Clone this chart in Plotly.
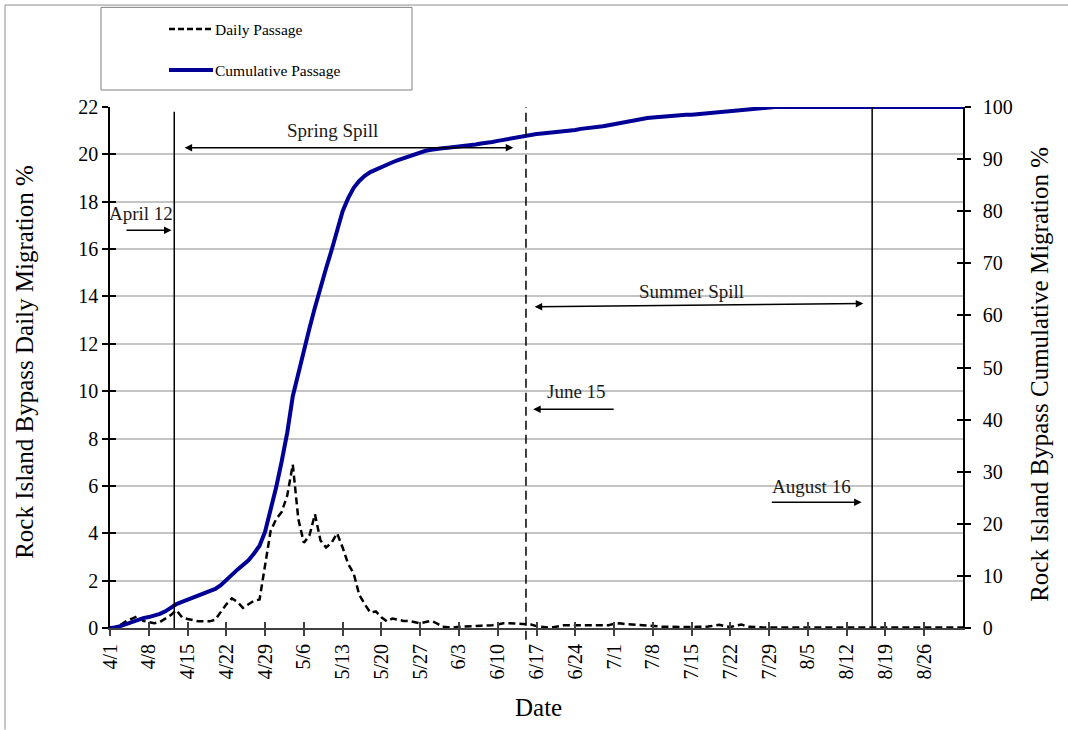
import plotly.graph_objects as go

# ---- data -------------------------------------------------------------
# x positions are days since April 1 (0 = 4/1)
tick_days = [0, 7, 14, 21, 28, 35, 42, 49, 56, 63, 70, 77,
             84, 91, 98, 105, 112, 119, 126, 133, 140, 147]
tick_labels = ["4/1", "4/8", "4/15", "4/22", "4/29", "5/6", "5/13", "5/20",
               "5/27", "6/3", "6/10", "6/17", "6/24", "7/1", "7/8", "7/15",
               "7/22", "7/29", "8/5", "8/12", "8/19", "8/26"]

days = list(range(155))

daily_pct = [
    0, 0.05, 0.15, 0.3, 0.4, 0.5, 0.3, 0.25, 0.2, 0.25,
    0.4, 0.55, 0.75, 0.45, 0.38, 0.32, 0.28, 0.28, 0.28, 0.35,
    0.7, 1.0, 1.25, 1.1, 0.85, 1.0, 1.15, 1.2, 2.7, 4.1,
    4.6, 4.9, 5.6, 6.9, 4.6, 3.6, 3.9, 4.8, 3.7, 3.4,
    3.6, 4.0, 3.4, 2.7, 2.3, 1.4, 1.0, 0.65, 0.7, 0.45,
    0.28, 0.4, 0.35, 0.3, 0.3, 0.25, 0.2, 0.25, 0.3, 0.2,
    0.05, 0.03, 0.02, 0.05, 0.05, 0.06, 0.08, 0.1, 0.1, 0.12,
    0.15, 0.2, 0.2, 0.18, 0.18, 0.17, 0.15, 0.08, 0.04, 0.02,
    0.03, 0.08, 0.12, 0.12, 0.12, 0.12, 0.1, 0.1, 0.1, 0.1,
    0.12, 0.18, 0.2, 0.17, 0.15, 0.12, 0.1, 0.08, 0.06, 0.05,
    0.05, 0.05, 0.04, 0.03, 0.02, 0.04, 0.05, 0.05, 0.06, 0.1,
    0.14, 0.08, 0.04, 0.1, 0.15, 0.06, 0.04, 0.03, 0.02, 0.02,
    0.02, 0.02, 0.02, 0.02, 0.02, 0.02, 0.02, 0.02, 0.02, 0.02,
    0.02, 0.02, 0.02, 0.02, 0.02, 0.02, 0.02, 0.02, 0.02, 0.02,
    0.02, 0.02, 0.02, 0.02, 0.02, 0.02, 0.02, 0.02, 0.02, 0.02,
    0.02, 0.02, 0.02, 0.02, 0.02,
]

cumulative_pct = [
    0, 0.1, 0.4, 0.8, 1.2, 1.6, 1.9, 2.1, 2.4, 2.7,
    3.2, 3.9, 4.6, 5.0, 5.4, 5.8, 6.2, 6.6, 7.0, 7.5,
    8.2, 9.1, 10.2, 11.2, 12.0, 13.0, 14.3, 15.8, 18.5, 22.5,
    27.0, 32.0, 37.5, 44.5, 49.0, 53.0, 57.5, 61.5, 65.5, 69.0,
    72.5, 76.5, 80.0, 82.5, 84.5, 85.8, 86.8, 87.5, 88.0, 88.6,
    89.0, 89.4, 89.8, 90.2, 90.6, 91.0, 91.3, 91.6, 91.8, 92.0,
    92.1, 92.2, 92.3, 92.4, 92.5, 92.6, 92.8, 93.0, 93.1, 93.3,
    93.5, 93.7, 93.9, 94.1, 94.3, 94.5, 94.7, 94.8, 94.9, 95.0,
    95.1, 95.2, 95.4, 95.5, 95.6, 95.8, 95.9, 96.0, 96.2, 96.3,
    96.5, 96.7, 97.0, 97.2, 97.4, 97.6, 97.7, 97.9, 98.0, 98.1,
    98.2, 98.3, 98.4, 98.4, 98.5, 98.5, 98.6, 98.6, 98.7, 98.8,
    98.9, 99.1, 99.2, 99.3, 99.5, 99.6, 99.7, 99.8, 99.9, 99.95,
    100, 100, 100, 100, 100, 100, 100, 100, 100, 100,
    100, 100, 100, 100, 100, 100, 100, 100, 100, 100,
    100, 100, 100, 100, 100, 100, 100, 100, 100, 100,
    100, 100, 100, 100, 100,
]

# ---- geometry helpers (pixel -> paper) -------------------------------
W, H = 1068, 730
L, R, T, B = 110, 963, 107, 628.3


def px(xp):
    return (xp - L) / (R - L)


def py(yp):
    return (B - yp) / (B - T)


FONT = "Liberation Serif, Times New Roman, serif"
NAVY = "#000096"

fig = go.Figure()

fig.add_trace(go.Scatter(
    x=days, y=daily_pct, mode="lines", name="Daily Passage",
    line=dict(color="black", width=2.5, dash="7px,4px"),
    showlegend=False,
))
fig.add_trace(go.Scatter(
    x=days, y=cumulative_pct, mode="lines", name="Cumulative Passage",
    yaxis="y2", line=dict(color=NAVY, width=4),
    showlegend=False,
))
# empty helper traces so the inner-tick axes get drawn
fig.add_trace(go.Scatter(x=[None], y=[None], xaxis="x2", yaxis="y3",
                         showlegend=False, hoverinfo="skip"))
fig.add_trace(go.Scatter(x=[None], y=[None], xaxis="x2", yaxis="y4",
                         showlegend=False, hoverinfo="skip"))

tickfont = dict(family=FONT, size=20, color="black")

fig.update_layout(
    width=W, height=H,
    margin=dict(l=L, r=W - R, t=T, b=H - B),
    paper_bgcolor="white", plot_bgcolor="white",
    font=dict(family=FONT, color="black"),
    xaxis=dict(
        range=[0, 154], tickvals=tick_days, ticktext=tick_labels,
        tickangle=-90, tickfont=tickfont,
        ticks="outside", ticklen=6, tickwidth=1.5, tickcolor="#404040",
        showline=True, linecolor="#404040", linewidth=2,
        showgrid=False, zeroline=False,
    ),
    xaxis2=dict(
        overlaying="x", range=[0, 154], tickvals=tick_days,
        ticks="inside", ticklen=6, tickwidth=1.5, tickcolor="#404040",
        showticklabels=False, showgrid=False, showline=False, zeroline=False,
    ),
    yaxis=dict(
        range=[0, 22], dtick=2, tickfont=tickfont,
        ticks="outside", ticklen=6, tickwidth=1.5, tickcolor="black",
        showline=True, linecolor="black", linewidth=1.5,
        showgrid=True, gridcolor="#c4c4c4", gridwidth=2, zeroline=False,
    ),
    yaxis2=dict(
        overlaying="y", side="right", range=[0, 100], dtick=10,
        tickfont=tickfont, ticklabelstandoff=8,
        ticks="outside", ticklen=6, tickwidth=1.5, tickcolor="black",
        showline=True, linecolor="black", linewidth=1.5,
        showgrid=False, zeroline=False,
    ),
    yaxis3=dict(
        overlaying="y", range=[0, 22], dtick=2,
        ticks="inside", ticklen=6, tickwidth=1.5, tickcolor="black",
        showticklabels=False, showgrid=False, showline=False, zeroline=False,
    ),
    yaxis4=dict(
        overlaying="y", side="right", range=[0, 100], dtick=10,
        ticks="inside", ticklen=6, tickwidth=1.5, tickcolor="black",
        showticklabels=False, showgrid=False, showline=False, zeroline=False,
    ),
)

shapes = []
# event date markers
shapes.append(dict(type="line", xref="x", yref="paper", x0=11.6, x1=11.6,
                   y0=0, y1=py(111.7), line=dict(color="black", width=1.5)))
shapes.append(dict(type="line", xref="x", yref="paper", x0=75.1, x1=75.1,
                   y0=py(640), y1=1, line=dict(color="black", width=1.5, dash="9px,5px")))
shapes.append(dict(type="line", xref="x", yref="paper", x0=137.6, x1=137.6,
                   y0=py(626.7), y1=1, line=dict(color="black", width=1.5)))

# legend box
shapes.append(dict(type="rect", xref="paper", yref="paper",
                   x0=px(101), x1=px(412), y0=py(90), y1=py(7.3),
                   line=dict(color="#7f7f7f", width=1), fillcolor="white"))
shapes.append(dict(type="line", xref="paper", yref="paper",
                   x0=px(169), x1=px(213), y0=py(29), y1=py(29),
                   line=dict(color="black", width=2.5, dash="6px,3px")))
shapes.append(dict(type="line", xref="paper", yref="paper",
                   x0=px(169), x1=px(213), y0=py(70), y1=py(70),
                   line=dict(color=NAVY, width=4)))

# outer frame (left and top edges)
shapes.append(dict(type="line", xref="paper", yref="paper",
                   x0=px(5), x1=px(5), y0=py(730), y1=py(5),
                   line=dict(color="#8c8c8c", width=1)))
shapes.append(dict(type="line", xref="paper", yref="paper",
                   x0=px(5), x1=px(1068), y0=py(5), y1=py(5),
                   line=dict(color="#8c8c8c", width=1)))

fig.update_layout(shapes=shapes)

ann_font = dict(family=FONT, size=19, color="#1a1a1a")
annotations = [
    # legend labels
    dict(xref="paper", yref="paper", x=px(213), y=py(29), text="Daily Passage",
         showarrow=False, xanchor="left", yanchor="middle",
         font=dict(family=FONT, size=15.5, color="black")),
    dict(xref="paper", yref="paper", x=px(213), y=py(70), text="Cumulative Passage",
         showarrow=False, xanchor="left", yanchor="middle",
         font=dict(family=FONT, size=15.5, color="black")),
    # axis titles
    dict(xref="paper", yref="paper", x=px(25), y=py(362),
         text="Rock Island Bypass Daily Migration %", textangle=-90,
         showarrow=False, xanchor="center", yanchor="middle",
         font=dict(family=FONT, size=25, color="black")),
    dict(xref="paper", yref="paper", x=px(1040), y=py(375),
         text="Rock Island Bypass Cumulative Migration %", textangle=-90,
         showarrow=False, xanchor="center", yanchor="middle",
         font=dict(family=FONT, size=25, color="black")),
    dict(xref="paper", yref="paper", x=px(538), y=py(708), text="Date",
         showarrow=False, xanchor="center", yanchor="middle",
         font=dict(family=FONT, size=25, color="black")),
    # event labels
    dict(x=5.6, y=17.5, text="April 12", showarrow=False, font=ann_font),
    dict(x=40.1, y=21.0, text="Spring Spill", showarrow=False, font=ann_font),
    dict(x=105.0, y=14.2, text="Summer Spill", showarrow=False, font=ann_font),
    dict(x=84.3, y=9.98, text="June 15", showarrow=False, font=ann_font),
    dict(x=126.7, y=5.97, text="August 16", showarrow=False, font=ann_font),
]

arrow_style = dict(showarrow=True, arrowhead=2, arrowsize=1, arrowwidth=1.5,
                   arrowcolor="black", axref="x", ayref="y", text="")
# single-headed arrows (tail at ax/ay, head at x/y)
annotations.append(dict(x=11.1, y=16.8, ax=2.7, ay=16.8, **arrow_style))
annotations.append(dict(x=76.4, y=9.24, ax=91.2, ay=9.24, **arrow_style))
annotations.append(dict(x=135.7, y=5.31, ax=119.2, ay=5.31, **arrow_style))
# double-headed arrows
annotations.append(dict(x=72.8, y=20.28, ax=13.2, ay=20.28, arrowside="end+start",
                        startarrowhead=2, startarrowsize=1, **arrow_style))
annotations.append(dict(x=136.0, y=13.7, ax=76.4, ay=13.56, arrowside="end+start",
                        startarrowhead=2, startarrowsize=1, **arrow_style))

fig.update_layout(annotations=annotations)

fig.write_html("out.html")
